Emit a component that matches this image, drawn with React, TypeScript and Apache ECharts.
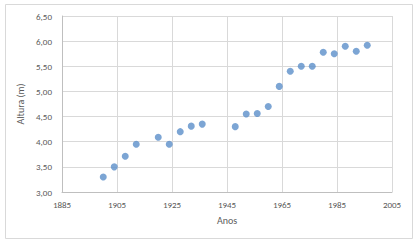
import React, { useEffect, useRef } from "react";
import * as echarts from "echarts";

const years = [1900, 1904, 1908, 1912, 1920, 1924, 1928, 1932, 1936, 1948, 1952, 1956, 1960, 1964, 1968, 1972, 1976, 1980, 1984, 1988, 1992, 1996];
const heights = [3.30, 3.50, 3.71, 3.95, 4.09, 3.95, 4.20, 4.31, 4.35, 4.30, 4.55, 4.56, 4.70, 5.10, 5.40, 5.50, 5.50, 5.78, 5.75, 5.90, 5.80, 5.92];
const xTitle = "Anos";
const yTitle = "Altura (m)";

export default function App() {
  const ref = useRef<HTMLDivElement>(null);
  useEffect(() => {
    if (!ref.current) return;
    const chart = echarts.init(ref.current, undefined, { renderer: "svg" });
    const font = "Calibri, 'Liberation Sans', 'DejaVu Sans', sans-serif";
    chart.setOption({
      animation: false,
      backgroundColor: "#ffffff",
      textStyle: { fontFamily: font },
      graphic: [
        {
          type: "rect",
          shape: { x: 5.5, y: 4.5, width: 407, height: 234 },
          style: { fill: "none", stroke: "#d9d9d9", lineWidth: 1 },
          silent: true,
        },
      ],
      grid: { left: 62, right: 27, top: 16, bottom: 52, containLabel: false },
      xAxis: {
        type: "value",
        min: 1885,
        max: 2005,
        interval: 20,
        name: xTitle,
        nameLocation: "middle",
        nameGap: 23,
        nameTextStyle: { color: "#595959", fontSize: 10, fontFamily: font },
        axisLine: { show: true, lineStyle: { color: "#bfbfbf", width: 1 } },
        axisTick: { show: false },
        axisLabel: {
          color: "#595959",
          fontSize: 9,
          margin: 8,
          fontFamily: font,
          formatter: (v: number) => String(v),
        },
        splitLine: { show: true, lineStyle: { color: "#d9d9d9", width: 1 } },
      },
      yAxis: {
        type: "value",
        min: 3,
        max: 6.5,
        interval: 0.5,
        name: yTitle,
        nameLocation: "middle",
        nameGap: 31,
        nameRotate: 90,
        nameTextStyle: { color: "#595959", fontSize: 10, fontFamily: font },
        axisLine: { show: true, lineStyle: { color: "#bfbfbf", width: 1 } },
        axisTick: { show: false },
        axisLabel: {
          color: "#595959",
          fontSize: 9,
          margin: 10,
          fontFamily: font,
          formatter: (v: number) => v.toFixed(2).replace(".", ","),
        },
        splitLine: { show: true, lineStyle: { color: "#d9d9d9", width: 1 } },
      },
      series: [
        {
          type: "scatter",
          data: years.map((y, i) => [y, heights[i]]),
          symbol: "circle",
          symbolSize: 7,
          itemStyle: { color: "#5b8fc9" },
        },
      ],
    });
    return () => chart.dispose();
  }, []);
  return (
    <div
      ref={ref}
      style={{ position: "absolute", left: 0, top: 0, width: 419, height: 244 }}
    />
  );
}
